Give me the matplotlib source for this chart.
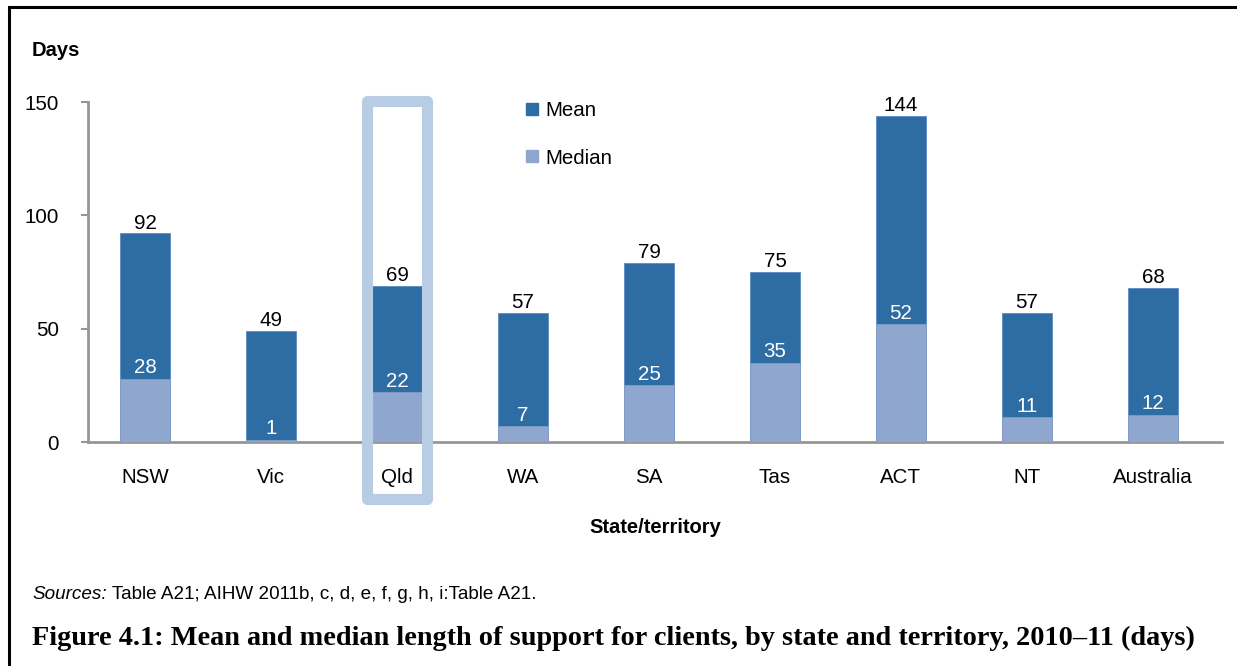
import matplotlib
matplotlib.use("Agg")
import matplotlib.pyplot as plt
from matplotlib.patches import Rectangle
from matplotlib.lines import Line2D

categories = ["NSW", "Vic", "Qld", "WA", "SA", "Tas", "ACT", "NT", "Australia"]
mean_days = [92, 49, 69, 57, 79, 75, 144, 57, 68]
median_days = [28, 1, 22, 7, 25, 35, 52, 11, 12]
yticks = [0, 50, 100, 150]
highlight = "Qld"

MEAN_C = "#2E6DA4"
MED_C = "#8FA7CF"
AXIS_C = "#969696"
BOX_C = "#B8CCE4"

plt.rcParams['font.family'] = ['Liberation Sans', 'DejaVu Sans']

W, H = 1237, 666
fig = plt.figure(figsize=(W / 100, H / 100), dpi=100)

# outer border (left and top visible)
fig.patches.append(Rectangle((8.5 / W, -0.2), 1.5, 1.2 - 7 / H, transform=fig.transFigure,
                             fill=False, edgecolor="black", linewidth=2.2, zorder=0))

ax = fig.add_axes([88 / W, 1 - 442 / H, (1222 - 88) / W, (442 - 102) / H])
x = list(range(len(categories)))
ax.bar(x, mean_days, width=0.4, color=MEAN_C, edgecolor="#5B8BC4", linewidth=0.6, zorder=3)
ax.bar(x, median_days, width=0.4, color=MED_C, edgecolor="#7E9CC8", linewidth=0.6, zorder=4)

FS = 14.8
for xi, m, md in zip(x, mean_days, median_days):
    ax.text(xi, m + 0.3, str(m), ha="center", va="bottom", fontsize=FS, color="black", zorder=6)
    ax.text(xi, md + 0.6, str(md), ha="center", va="bottom", fontsize=FS, color="white", zorder=6)

ax.set_xlim(-0.452, len(categories) - 0.452)
ax.set_ylim(0, 150)
ax.set_yticks(yticks)
ax.set_xticks(x)
ax.set_xticklabels(categories)
ax.tick_params(axis="x", length=0, pad=19, labelsize=FS)
ax.tick_params(axis="y", length=5, width=1.5, color=AXIS_C, pad=16, labelsize=FS)
for s in ["top", "right"]:
    ax.spines[s].set_visible(False)
for s in ["left", "bottom"]:
    ax.spines[s].set_color(AXIS_C)
    ax.spines[s].set_linewidth(2)
ax.set_xlabel("State/territory", fontsize=14.5, fontweight="bold", labelpad=22)

# highlight box around Qld
hi = categories.index(highlight)
rect = Rectangle((hi - 0.238, -25.1), 0.476, 175.5, fill=False, edgecolor=BOX_C,
                 linewidth=8, joinstyle="round", clip_on=False, zorder=5)
ax.add_patch(rect)

handles = [Line2D([], [], marker="s", linestyle="none", markersize=8, color=MEAN_C, label="Mean"),
           Line2D([], [], marker="s", linestyle="none", markersize=8, color=MED_C, label="Median")]
ax.legend(handles=handles, loc="upper left", bbox_to_anchor=(0.366, 1.058), frameon=False,
          fontsize=FS, labelspacing=1.4, handletextpad=0.15, handlelength=1.0)

fig.text(32 / W, 1 - 50 / H, "Days", fontsize=14.5, fontweight="bold", va="center", ha="left")
t1 = fig.text(32 / W, 1 - 599 / H, "Sources:", fontsize=13.6, style="italic", va="baseline", ha="left")
ax.annotate(" Table A21; AIHW 2011b, c, d, e, f, g, h, i:Table A21.", xy=(1, 0), xycoords=t1,
            fontsize=13.6, va="bottom", ha="left", annotation_clip=False)
fig.text(32 / W, 1 - 638 / H,
         "Figure 4.1: Mean and median length of support for clients, by state and territory, 2010\u201311 (days)",
         fontsize=20.3, fontweight="bold", family=["Liberation Serif", "DejaVu Serif"],
         va="center", ha="left")

fig.savefig("out.png", dpi=100)
